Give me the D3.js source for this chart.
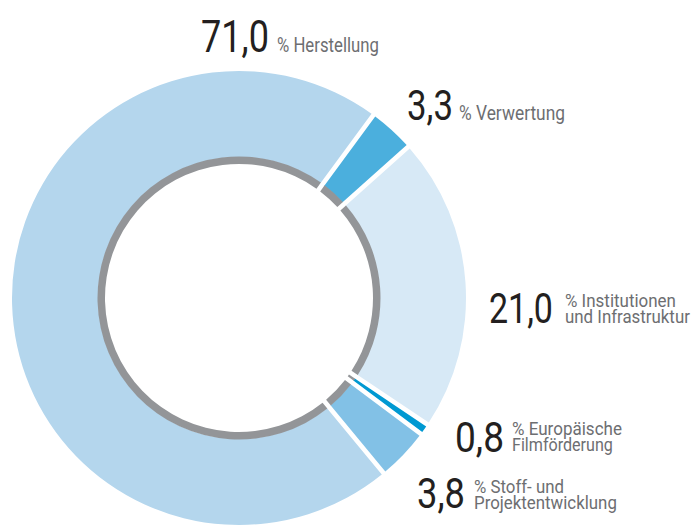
<!DOCTYPE html>
<html><head><meta charset="utf-8">
<script src="https://cdn.jsdelivr.net/npm/d3@7"></script>
<style>html,body{margin:0;padding:0;background:#fff;}svg{display:block;}</style>
</head><body>
<svg id="c" width="695" height="527"></svg>
<script>
const categories = ["Verwertung","Institutionen und Infrastruktur","Europäische Filmförderung","Stoff- und Projektentwicklung","Herstellung"];
const values = [3.3, 21.0, 0.8, 3.8, 71.0];
const valueLabels = ["3,3","21,0","0,8","3,8","71,0"];
const textLines = [["% Verwertung"],["% Institutionen","und Infrastruktur"],["% Europäische","Filmförderung"],["% Stoff- und","Projektentwicklung"],["% Herstellung"]];
const colors = ["#4bafdd","#d7e9f6","#0099d2","#82c1e6","#b4d6ed"];

// label layout (x of number, baseline, number width, text x, first baseline, line widths, font size)
const layout = [
  {nx:407, ny:119.5, nw:46, nf:42, tx:459, ty:119.5, tw:[106], tf:20},
  {nx:489, ny:323, nw:64, nf:42, tx:565, ty:306.5, tw:[111,125], tf:19},
  {nx:455, ny:451.5, nw:49, nf:42, tx:512, ty:434.5, tw:[110,101], tf:19},
  {nx:417, ny:508, nw:48, nf:42, tx:474, ty:492.5, tw:[90,143], tf:19},
  {nx:201, ny:52, nw:68, nf:45, tx:277, ty:52.3, tw:[102], tf:20.5}
];

const svg = d3.select("#c");
const cx = 239, cy = 298;
const R = 227, rIn = 141, rGray = 134;
const start = 36.3 * Math.PI / 180;

const pie = d3.pie().sort(null).value(d => d)
  .startAngle(start).endAngle(start + 2*Math.PI);
const arcs = pie(values);

const pad = 4.6;
const arcOuter = d3.arc().innerRadius(rIn).outerRadius(R).padRadius(R).padAngle(pad / R);
const arcGray = d3.arc().innerRadius(rGray).outerRadius(rIn + 0.5).padRadius(R).padAngle(pad / R);

const g = svg.append("g").attr("transform", `translate(${cx},${cy})`);
g.selectAll("path.o").data(arcs).join("path").attr("class","o")
  .attr("d", arcOuter).attr("fill", (d,i) => colors[i]);
g.selectAll("path.g").data(arcs).join("path").attr("class","g")
  .attr("d", arcGray).attr("fill", "#939598");

const lab = svg.append("g").attr("font-family", "Roboto, 'Liberation Sans', sans-serif");
function fitText(str, x, y, size, width, color) {
  const t = lab.append("text").attr("x", 0).attr("y", 0)
    .attr("font-size", size).attr("fill", color).text(str);
  const w = t.node().getComputedTextLength();
  t.attr("transform", `translate(${x},${y}) scale(${width / w},1)`);
}
layout.forEach((L, i) => {
  fitText(valueLabels[i], L.nx, L.ny, L.nf, L.nw, "#231f20");
  textLines[i].forEach((t, j) => {
    fitText(t, L.tx, L.ty + j * 16.3, L.tf, L.tw[j], "#6d6e71");
  });
});
</script>
</body></html>
